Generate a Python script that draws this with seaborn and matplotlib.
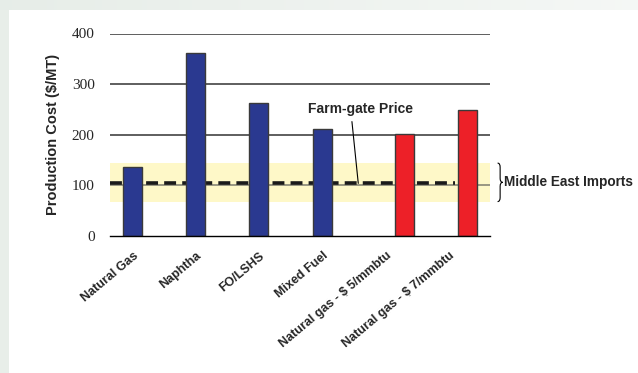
import numpy as np
import pandas as pd
import matplotlib
matplotlib.use("Agg")
import matplotlib.pyplot as plt
import matplotlib.transforms as mtransforms
from matplotlib.path import Path
from matplotlib.patches import PathPatch, Rectangle
import seaborn as sns

# Urea production cost by feedstock ($/MT)
feeds = ["Natural Gas", "Naphtha", "FO/LSHS", "Mixed Fuel",
         "Natural gas - $ 5/mmbtu", "Natural gas - $ 7/mmbtu"]
costs = [137, 361, 262, 212, 202, 249]
cases = ["Existing", "Existing", "Existing", "Existing", "Gas price case", "Gas price case"]
case_order = ["Existing", "Gas price case"]
case_colors = {"Existing": "#2A3990", "Gas price case": "#ED2028"}

farm_gate_price = 104
import_band = (68, 144)
y_ticks = [0, 100, 200, 300, 400]

df = pd.DataFrame({"feed": feeds, "cost": costs, "case": cases})

sns.set_style("white")
plt.rcParams["font.family"] = ["Liberation Sans", "DejaVu Sans"]

fig = plt.figure(figsize=(6.38, 3.73), dpi=100)
fig.patch.set_facecolor("white")

# slide frame: left strip and a soft top strip
fig.patches.append(Rectangle((0, 0), 9 / 638, 1, transform=fig.transFigure,
                             facecolor="#E8EEE9", edgecolor="none", zorder=-5))
top = fig.add_axes([0, 1 - 10 / 373, 1, 10 / 373], zorder=-4)
grad = np.linspace(0, 1, 256)
c0 = np.array([0.905, 0.930, 0.910])
c1 = np.array([0.960, 0.970, 0.962])
img = c0[None, :] * (1 - grad[:, None]) + c1[None, :] * grad[:, None]
top.imshow(img[None, :, :], aspect="auto", extent=[0, 1, 0, 1])
top.set_axis_off()

ax = fig.add_axes([110 / 638, 1 - 236 / 373, 380 / 638, 202.5 / 373])
ax.set_facecolor("none")

# import price band and reference lines
ax.axhspan(*import_band, color="#FEF8C8", zorder=0.2, lw=0)
for y in y_ticks[1:]:
    ax.axhline(y, color="#7d7d70" if y == 100 else "#333333", lw=1.1, zorder=0.5)
ax.plot([-0.5, 4.95], [farm_gate_price, farm_gate_price], color="#1a1a1a",
        lw=2.6, dashes=(3.3, 1.7), solid_capstyle="butt", zorder=0.8)

sns.barplot(data=df, x="feed", y="cost", hue="case", order=feeds,
            hue_order=case_order, palette=case_colors, width=0.6, dodge=True,
            edgecolor="#3a3a3a", linewidth=1.0, saturation=1, legend=False,
            errorbar=None, ax=ax)

ax.set_xlim(-0.5, len(feeds) - 0.5)
ax.set_ylim(0, 400)
ax.set_yticks(y_ticks)
ax.set_yticklabels([str(v) for v in y_ticks], family=["Liberation Serif"], fontsize=11)
ax.tick_params(axis="y", length=0, pad=11)

ax.set_xticks(range(len(feeds)))
ax.set_xticklabels(feeds, rotation=40, ha="right", rotation_mode="anchor",
                   fontsize=9, fontweight="bold")
ax.tick_params(axis="x", which="major", length=0, pad=10)
shift = mtransforms.ScaledTranslation(-9 / 100, 0, fig.dpi_scale_trans)
for lab in ax.get_xticklabels():
    lab.set_transform(lab.get_transform() + shift)
ax.set_xticks(np.arange(-0.5, len(feeds)), minor=True)
ax.tick_params(axis="x", which="minor", length=4, width=1, color="black", direction="out")

for side in ["left", "right", "top"]:
    ax.spines[side].set_visible(False)
ax.spines["bottom"].set_color("black")
ax.spines["bottom"].set_linewidth(1.0)

ax.set_xlabel("")
ax.set_ylabel("Production Cost ($/MT)", fontsize=10.5, fontweight="bold")
ax.yaxis.set_label_coords(-0.132, 0.5)

# farm-gate annotation with leader line
ax.text(3.46, 251, "Farm-gate Price", ha="center", va="center",
        fontsize=10, fontweight="bold")
ax.plot([3.32, 3.42], [226, farm_gate_price], color="black", lw=0.8, zorder=3)

# brace marking the import price band
x0, w = 5.62, 0.08
yt, yb = import_band[1], import_band[0]
ym = (yt + yb) / 2
r = 8
a, b, c = x0, x0 + w / 2, x0 + w
verts = [(a, yt), (b, yt), (b, yt - r), (b, ym + r), (b, ym), (c, ym),
         (b, ym), (b, ym - r), (b, yb + r), (b, yb), (a, yb)]
codes = [Path.MOVETO, Path.CURVE3, Path.CURVE3, Path.LINETO, Path.CURVE3, Path.CURVE3,
         Path.CURVE3, Path.CURVE3, Path.LINETO, Path.CURVE3, Path.CURVE3]
ax.add_patch(PathPatch(Path(verts, codes), facecolor="none", edgecolor="black",
                       lw=0.8, clip_on=False))
ax.text(5.72, ym, "Middle East Imports", ha="left", va="center",
        fontsize=9.8, fontweight="bold", clip_on=False)

fig.savefig("out.png", dpi=100)
